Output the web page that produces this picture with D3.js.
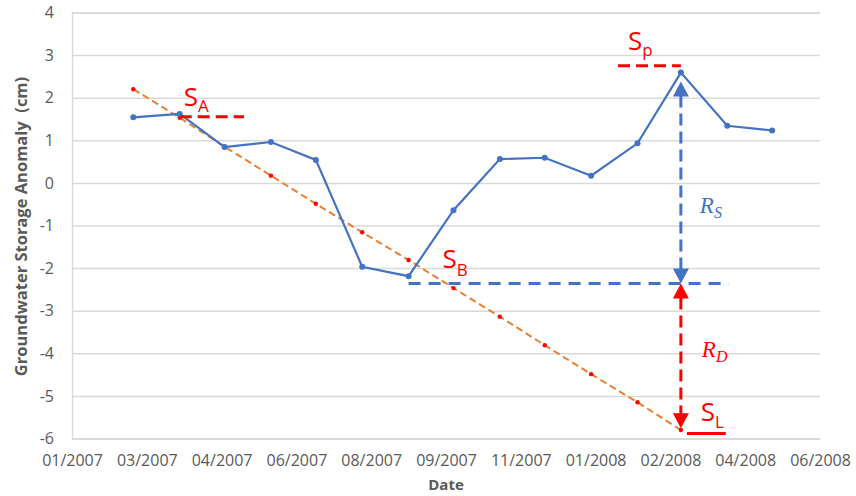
<!DOCTYPE html>
<html>
<head>
<meta charset="utf-8">
<script src="https://cdn.jsdelivr.net/npm/d3@7"></script>
<style>
  body { margin: 0; background: #fff; }
  text { font-family: "Open Sans", "Liberation Sans", sans-serif; }
</style>
</head>
<body>
<svg id="chart" width="856" height="496"></svg>
<script>
// Monthly groundwater storage anomaly (cm)
const months = ["2007-03", "2007-04", "2007-05", "2007-06", "2007-07", "2007-08", "2007-09",
                "2007-10", "2007-11", "2007-12", "2008-01", "2008-02", "2008-03", "2008-04", "2008-05"];
const storageAnomaly = [1.54, 1.62, 0.84, 0.96, 0.54, -1.97, -2.19, -0.64, 0.56, 0.59, 0.17, 0.93, 2.59, 1.34, 1.23];

// Declining trend line through the drought months
const trendMonths = months.slice(0, 13);
const trendValues = [2.20, 1.53, 0.85, 0.17, -0.49, -1.16, -1.81, -2.47, -3.14, -3.81, -4.49, -5.15, -5.80];

// Axis ticks
const yTicks = [4, 3, 2, 1, 0, -1, -2, -3, -4, -5, -6];
const xTickLabels = ["01/2007", "03/2007", "04/2007", "06/2007", "08/2007", "09/2007",
                     "11/2007", "01/2008", "02/2008", "04/2008", "06/2008"];
const xAxisStart = "2007-01-19";
const xTickStepDays = 50;

// Reference storage levels (cm) and the spans they are drawn over
const levelSA = 1.55, spanSA = ["2007-04", "2007-05-14"];
const levelSp = 2.75, spanSp = ["2008-01-19", "2008-03"];
const levelSB = -2.36, spanSB = ["2007-09", "2008-04-02"];
const levelSL = -5.88, spanSL = ["2008-03-05", "2008-03-31"];
const arrowMonth = "2008-03";
const recoveryTop = 2.38;     // tip of the recovery arrow
const deficitBottom = -5.76;  // tip of the deficit arrow

const parseMonth = d3.utcParse("%Y-%m");
const parseDay = d3.utcParse("%Y-%m-%d");
const parse = s => s.length === 7 ? parseMonth(s) : parseDay(s);

const svg = d3.select("#chart");
const margin = { left: 72, right: 36, top: 12.5, bottom: 57.5 };
const W = 856, H = 496;

const start = parse(xAxisStart);
const tickDates = xTickLabels.map((_, i) => d3.utcDay.offset(start, i * xTickStepDays));

const x = d3.scaleUtc()
  .domain([tickDates[0], tickDates[tickDates.length - 1]])
  .range([margin.left, W - margin.right]);
const y = d3.scaleLinear().domain([-6, 4]).range([H - margin.bottom, margin.top]);

const grey = "#595959";
const grid = "#d9d9d9";
const blue = "#4472c4";
const red = "#ff0000";
const orange = "#ed7d31";

// Gridlines + y axis
const yAxis = d3.axisLeft(y).tickValues(yTicks).tickSize(-(W - margin.left - margin.right)).tickPadding(18)
  .tickFormat(d => String(d));
const gy = svg.append("g").attr("transform", `translate(${margin.left},0)`).call(yAxis);
gy.select(".domain").attr("stroke", grid).attr("stroke-width", 1.5);
gy.selectAll(".tick line").attr("stroke", grid).attr("stroke-width", 1.5);
gy.selectAll(".tick text").attr("fill", grey).style("font-size", "16px").attr("x", -18);

// X axis
const xAxis = d3.axisBottom(x).tickValues(tickDates).tickSize(0).tickPadding(16)
  .tickFormat((d, i) => xTickLabels[i]);
const gx = svg.append("g").attr("transform", `translate(0,${y(-6)})`).call(xAxis);
gx.select(".domain").attr("stroke", grid).attr("stroke-width", 1.5);
gx.selectAll(".tick text").attr("fill", grey).style("font-size", "16px");

// Axis titles
svg.append("text")
  .attr("transform", `translate(27,${(y(4) + y(-6)) / 2 + 1}) rotate(-90)`)
  .attr("text-anchor", "middle").attr("fill", grey)
  .style("font-size", "16.5px").style("font-weight", "700")
  .text("Groundwater Storage Anomaly\u00a0 (cm)");
svg.append("text")
  .attr("x", (x.range()[0] + x.range()[1]) / 2).attr("y", 490)
  .attr("text-anchor", "middle").attr("fill", grey)
  .style("font-size", "15px").style("font-weight", "700")
  .text("Date");

// Trend line (dashed orange with red markers)
const trend = trendMonths.map((m, i) => ({ d: parse(m), v: trendValues[i] }));
const line = d3.line().x(p => x(p.d)).y(p => y(p.v));
svg.append("path").datum(trend).attr("d", line)
  .attr("fill", "none").attr("stroke", orange).attr("stroke-width", 2).attr("stroke-dasharray", "7,4");
svg.append("g").selectAll("circle").data(trend).join("circle")
  .attr("cx", p => x(p.d)).attr("cy", p => y(p.v)).attr("r", 2.2).attr("fill", red);

// Storage anomaly series
const series = months.map((m, i) => ({ d: parse(m), v: storageAnomaly[i] }));
svg.append("path").datum(series).attr("d", line)
  .attr("fill", "none").attr("stroke", blue).attr("stroke-width", 2.2);
svg.append("g").selectAll("circle").data(series).join("circle")
  .attr("cx", p => x(p.d)).attr("cy", p => y(p.v)).attr("r", 3).attr("fill", blue);

// Level markers
function level(span, v, color, dash) {
  svg.append("line")
    .attr("x1", x(parse(span[0]))).attr("x2", x(parse(span[1])))
    .attr("y1", y(v)).attr("y2", y(v))
    .attr("stroke", color).attr("stroke-width", 3)
    .attr("stroke-dasharray", dash);
}
level(spanSA, levelSA, red, "12,6");
level(spanSp, levelSp, red, "12,6");
level(spanSB, levelSB, blue, "12,8");
level(spanSL, levelSL, red, null);

// S labels with subscripts
function sLabel(px, py, sub, subDy) {
  const t = svg.append("text").attr("x", px).attr("y", py).attr("fill", red).style("font-size", "26px");
  t.append("tspan").text("S");
  t.append("tspan").attr("dy", subDy).style("font-size", "17px").text(sub);
}
sLabel(x(parse(spanSA[0])) + 4, y(levelSA) - 11, "A", 6);
sLabel(x(parse(spanSp[0])) + 10, y(levelSp) - 16, "p", 6);
sLabel(x(parse(spanSB[0])) + 34, y(levelSB) - 15, "B", 8);
sLabel(x(parse(spanSL[0])) + 14, y(levelSL) - 12, "L", 7);

// Double-headed dashed arrows
const ax = x(parse(arrowMonth));
function head(tipY, dir, color) {
  const hw = 8, hh = 15;
  svg.append("path")
    .attr("d", `M${ax},${tipY} L${ax - hw},${tipY + dir * hh} L${ax + hw},${tipY + dir * hh} Z`)
    .attr("fill", color);
}
function arrow(topV, botV, color) {
  const t = y(topV), b = y(botV);
  svg.append("line").attr("x1", ax).attr("x2", ax).attr("y1", t + 14).attr("y2", b - 14)
    .attr("stroke", color).attr("stroke-width", 3).attr("stroke-dasharray", "12,6");
  head(t, 1, color);
  head(b, -1, color);
}
arrow(recoveryTop, levelSB, blue);
arrow(levelSB, deficitBottom, red);

// R labels
function rLabel(px, py, sub, color) {
  const t = svg.append("text").attr("x", px).attr("y", py).attr("fill", color)
    .style("font-family", "'Liberation Serif', 'DejaVu Serif', serif").style("font-style", "italic").style("font-size", "23px");
  t.append("tspan").text("R");
  t.append("tspan").attr("dy", 5).style("font-size", "16px").text(sub);
}
rLabel(ax + 19, 213, "S", blue);
rLabel(ax + 21, 357, "D", red);
</script>
</body>
</html>
